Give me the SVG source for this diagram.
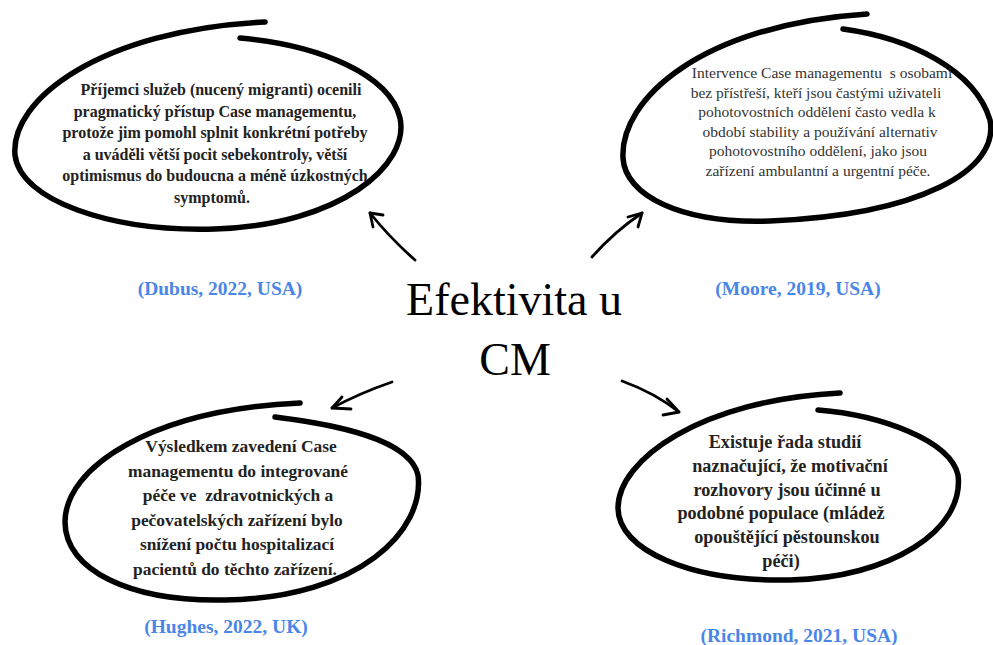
<svg xmlns="http://www.w3.org/2000/svg" width="993" height="645" viewBox="0 0 993 645">
<style>
.bg{fill:#fff}
.loop{fill:none;stroke:#000;stroke-width:5.5;stroke-linecap:round;stroke-linejoin:round}
.arr{fill:none;stroke:#000;stroke-width:2.8;stroke-linecap:round;stroke-linejoin:round}
.tb{font-family:"Liberation Serif","Times New Roman",serif;font-weight:bold;fill:#222;text-anchor:middle}
.tr{font-family:"Liberation Serif","Times New Roman",serif;fill:#333;text-anchor:middle;font-size:15.5px}
.cit{font-family:"Liberation Serif","Times New Roman",serif;font-weight:bold;fill:#4a86e8;text-anchor:middle;font-size:19.5px}
.title{font-family:"Liberation Serif","Times New Roman",serif;fill:#000;text-anchor:middle;font-size:46px}
</style>
<rect class="bg" x="0" y="0" width="993" height="645"/>

<g id="center">
<text class="title" x="514" y="315">Efektivita u</text>
<text class="title" x="515" y="375">CM</text>
</g>

<g id="node-dubus">
<path class="loop" d="M240,38 C320,45 390,75 400,118 C410,165 340,225 215,229 C110,232 20,200 15,155 C10,100 100,30 265,22"/>
<text class="tb" font-size="16"><tspan x="221" y="95">Příjemci služeb (nucený migranti) ocenili</tspan><tspan x="215" y="116.5">pragmatický přístup Case managementu,</tspan><tspan x="215" y="138">protože jim pomohl splnit konkrétní potřeby</tspan><tspan x="215" y="159.5">a uváděli větší pocit sebekontroly, větší</tspan><tspan x="215" y="181">optimismus do budoucna a méně úzkostných</tspan><tspan x="212" y="202.5">symptomů.</tspan></text>
<text class="cit" x="220" y="295">(Dubus, 2022, USA)</text>
</g>

<g id="node-moore">
<path class="loop" d="M843,29 C910,38 975,70 990,120 C1000,170 920,215 770,221 C680,224 625,195 623,158 C620,100 700,25 867,14"/>
<text class="tr"><tspan x="822" y="78">Intervence Case managementu &#160;s osobami</tspan><tspan x="816" y="97.6">bez přístřeší, kteří jsou častými uživateli</tspan><tspan x="817" y="117.2">pohotovostních oddělení často vedla k</tspan><tspan x="820" y="136.8">období stability a používání alternativ</tspan><tspan x="818" y="156.4">pohotovostního oddělení, jako jsou</tspan><tspan x="818" y="176">zařízení ambulantní a urgentní péče.</tspan></text>
<text class="cit" x="798" y="295">(Moore, 2019, USA)</text>
</g>

<g id="node-hughes">
<path class="loop" d="M275,417 C340,425 410,440 418,475 C425,530 360,598 225,600 C130,602 65,570 65,522 C65,468 150,410 300,403"/>
<text class="tb" font-size="17.4"><tspan x="241" y="452">Výsledkem zavedení Case</tspan><tspan x="238" y="476.6">managementu do integrované</tspan><tspan x="238" y="501.2">péče ve &#160;zdravotnických a</tspan><tspan x="237" y="525.8">pečovatelských zařízení bylo</tspan><tspan x="237" y="550.4">snížení počtu hospitalizací</tspan><tspan x="235" y="575">pacientů do těchto zařízení.</tspan></text>
<text class="cit" x="226" y="633">(Hughes, 2022, UK)</text>
</g>

<g id="node-richmond">
<path class="loop" d="M818,410 C880,415 950,440 958,475 C965,530 890,578 790,580 C690,582 618,550 618,508 C618,460 700,400 840,393"/>
<text class="tb" font-size="18.2"><tspan x="785" y="448">Existuje řada studií</tspan><tspan x="790" y="471.8">naznačující, že motivační</tspan><tspan x="787" y="495.6">rozhovory jsou účinné u</tspan><tspan x="781" y="519.4">podobné populace (mládež</tspan><tspan x="787" y="543.2">opouštějící pěstounskou</tspan><tspan x="781" y="567">péči)</tspan></text>
<text class="cit" x="799" y="642">(Richmond, 2021, USA)</text>
</g>

<g id="connectors">
<path class="arr" d="M415,260 Q390,238 370,213"/>
<path class="arr" d="M383,215 L370,213 L373,227"/>
<path class="arr" d="M592,257 Q614,232 642,213"/>
<path class="arr" d="M628,217 L642,213 L638,227"/>
<path class="arr" d="M392,382 Q360,393 332,408"/>
<path class="arr" d="M342,397 L332,408 L351,409"/>
<path class="arr" d="M622,381 Q655,393 679,412"/>
<path class="arr" d="M667,399 L679,412 L663,415"/>
</g>
</svg>
